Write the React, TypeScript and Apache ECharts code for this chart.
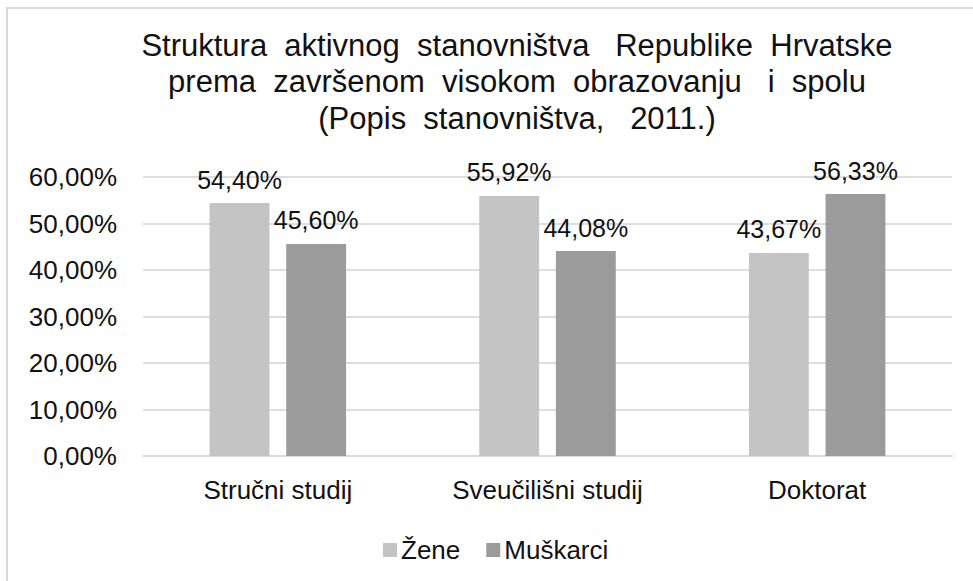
import React, { useEffect, useRef } from "react";
import * as echarts from "echarts";

const titleLines = [
  "Struktura  aktivnog  stanovništva   Republike  Hrvatske",
  "prema  završenom  visokom  obrazovanju   i  spolu",
  "(Popis  stanovništva,   2011.)",
];
const categories = ["Stručni studij", "Sveučilišni studij", "Doktorat"];
const zene = [54.4, 55.92, 43.67];
const muskarci = [45.6, 44.08, 56.33];
const seriesNames = ["Žene", "Muškarci"];
const yTicks = { min: 0, max: 60, interval: 10 };

const FONT = "'Liberation Sans', Arial, sans-serif";
const fmt = (v: number) => v.toFixed(2).replace(".", ",") + "%";

export default function App() {
  const ref = useRef<HTMLDivElement>(null);
  useEffect(() => {
    if (!ref.current) return;
    const chart = echarts.init(ref.current, null, { renderer: "svg" });
    const labelStyle = {
      show: true,
      position: "top" as const,
      distance: 11,
      fontFamily: FONT,
      fontSize: 25,
      color: "#111",
      formatter: (p: any) => fmt(p.value),
    };
    chart.setOption({
      animation: false,
      backgroundColor: "#fff",
      textStyle: { fontFamily: FONT },
      graphic: [
        {
          type: "rect",
          shape: { x: 7, y: 8, width: 1000, height: 600 },
          style: { fill: "none", stroke: "#d9d9d9", lineWidth: 2 },
          silent: true,
        },
        ...titleLines.map((t, i) => ({
          type: "text",
          x: 517,
          y: 45 + i * 36.5,
          style: {
            text: t,
            fontFamily: FONT,
            fontSize: 31,
            fill: "#111",
            textAlign: "center",
            textVerticalAlign: "middle",
          },
        })),
      ],
      legend: {
        data: seriesNames,
        left: 378,
        top: 532,
        icon: "rect",
        itemWidth: 14,
        itemHeight: 14,
        itemGap: 26,
        textStyle: { fontFamily: FONT, fontSize: 26, color: "#111", padding: [0, 0, 0, -1] },
      },
      grid: { left: 143, right: 21, top: 177, bottom: 125 },
      xAxis: {
        type: "category",
        data: categories,
        axisLine: { lineStyle: { color: "#d9d9d9", width: 2 } },
        axisTick: { show: false },
        axisLabel: { fontFamily: FONT, fontSize: 26, color: "#111", margin: 21 },
      },
      yAxis: {
        type: "value",
        min: yTicks.min,
        max: yTicks.max,
        interval: yTicks.interval,
        axisLine: { show: false },
        axisTick: { show: false },
        splitLine: { lineStyle: { color: "#dedede", width: 2 } },
        axisLabel: {
          fontFamily: FONT,
          fontSize: 26,
          color: "#111",
          margin: 26,
          formatter: (v: number) => fmt(v),
        },
      },
      series: [
        {
          name: seriesNames[0],
          type: "bar",
          data: zene,
          barWidth: "22.2%",
          barGap: "28%",
          itemStyle: { color: "#c4c4c4" },
          label: labelStyle,
        },
        {
          name: seriesNames[1],
          type: "bar",
          data: muskarci,
          barWidth: "22.2%",
          barGap: "28%",
          itemStyle: { color: "#9b9b9b" },
          label: labelStyle,
        },
      ],
    });
    return () => chart.dispose();
  }, []);
  return <div ref={ref} style={{ width: 973, height: 581, position: "absolute", left: 0, top: 0 }} />;
}
